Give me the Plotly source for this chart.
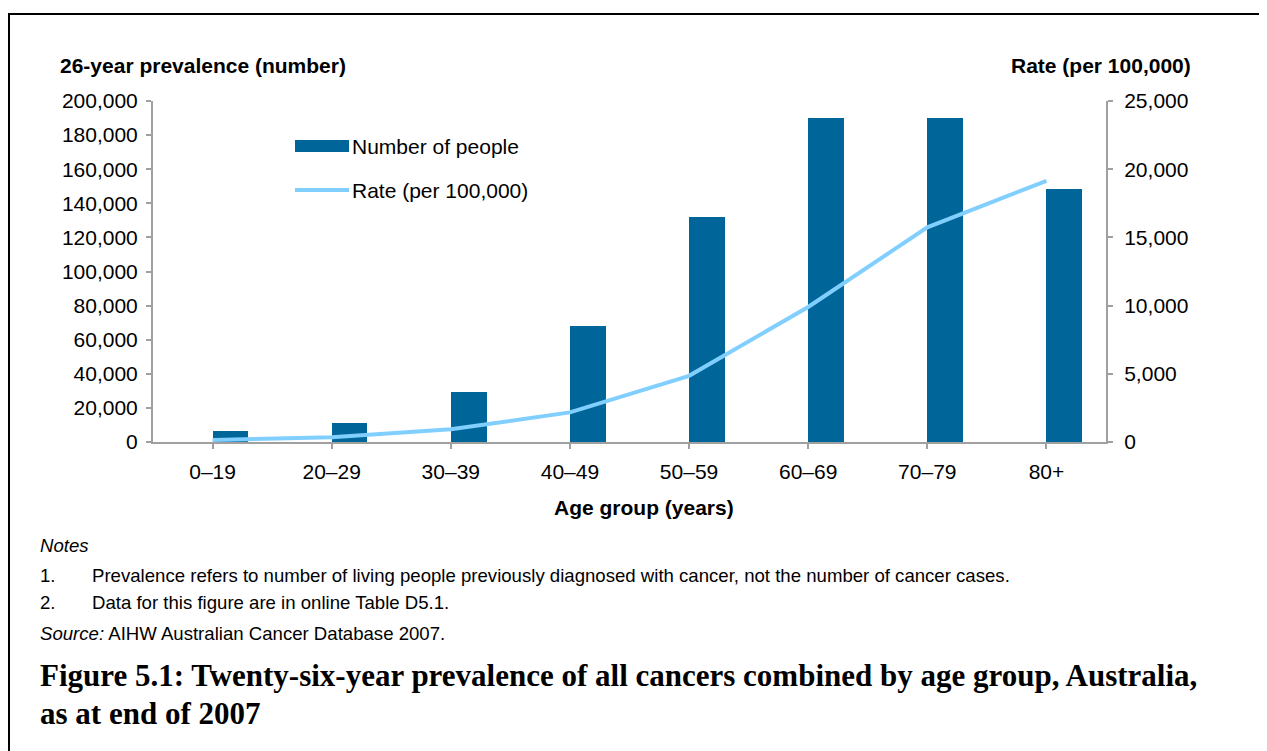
import plotly.graph_objects as go

age_groups = ["0–19", "20–29", "30–39", "40–49", "50–59", "60–69", "70–79", "80+"]
number_of_people = [6600, 11100, 29400, 68000, 131800, 190000, 190000, 148100]
rate_per_100k = [150, 340, 930, 2170, 4850, 9900, 15740, 19150]

left_ticks = list(range(0, 200001, 20000))
right_ticks = list(range(0, 25001, 5000))

OFF = 8  # page body margin
W, H = 1267 - OFF, 751 - OFF
# plot area in page pixels
PL, PR, PT, PB = 153, 1106, 101, 442


def X(px):
    return (px - PL) / (PR - PL)


def Y(py):
    return (PB - py) / (PB - PT)


BAR_COLOR = "#006699"
LINE_COLOR = "#80CFFF"
AXIS_COLOR = "#a0a0a0"
SANS = "Liberation Sans, Arial, sans-serif"
SERIF = "Liberation Serif, Times New Roman, serif"

fig = go.Figure()
fig.add_trace(go.Bar(
    x=age_groups, y=number_of_people, name="Number of people",
    marker=dict(color=BAR_COLOR, line=dict(width=0)),
    width=0.3, offset=0, showlegend=False,
))
fig.add_trace(go.Scatter(
    x=age_groups, y=rate_per_100k, name="Rate (per 100,000)", yaxis="y2",
    mode="lines", line=dict(color=LINE_COLOR, width=4), showlegend=False,
))

axis_common = dict(showline=True, linecolor=AXIS_COLOR, linewidth=2, ticks="outside",
                   ticklen=5, tickcolor=AXIS_COLOR, tickwidth=2, showgrid=False,
                   zeroline=False, tickfont=dict(family=SANS, size=21, color="#000"))

fig.update_layout(
    width=W, height=H,
    margin=dict(l=PL - OFF, r=W - (PR - OFF), t=PT - OFF, b=H - (PB - OFF), pad=0),
    paper_bgcolor="white", plot_bgcolor="white",
    bargap=0,
    xaxis=dict(range=[-0.5, 7.5], ticklabelstandoff=5, **axis_common),
    yaxis=dict(range=[0, 200000], tickvals=left_ticks, tickformat=",",
               ticklabelstandoff=4, **axis_common),
    yaxis2=dict(range=[0, 25000], tickvals=right_ticks, tickformat=",",
                overlaying="y", side="right", ticklabelstandoff=7, **axis_common),
    showlegend=False,
)

annotations = []


def txt(text, px, py, xanchor="left", size=21, family=SANS):
    annotations.append(dict(text=text, x=X(px), y=Y(py), xref="paper", yref="paper",
                            xanchor=xanchor, yanchor="middle", showarrow=False,
                            font=dict(family=family, size=size, color="#000")))


NOTE = 18.6
txt("<b>26-year prevalence (number)</b>", 58, 65)
txt("<b>Rate (per 100,000)</b>", 1193, 65, xanchor="right")
txt("<b>Age group (years)</b>", 644, 507, xanchor="center")
txt("Number of people", 350, 146)
txt("Rate (per 100,000)", 350, 190)
txt("<i>Notes</i>", 38, 545, size=NOTE)
txt("1.", 38, 575, size=NOTE)
txt("Prevalence refers to number of living people previously diagnosed with cancer, not the number of cancer cases.", 90, 575, size=NOTE)
txt("2.", 38, 602, size=NOTE)
txt("Data for this figure are in online Table D5.1.", 90, 602, size=NOTE)
txt("<i>Source:</i> AIHW Australian Cancer Database 2007.", 38, 633, size=NOTE)
txt("<b>Figure 5.1: Twenty-six-year prevalence of all cancers combined by age group, Australia,</b>", 38, 675, size=31, family=SERIF)
txt("<b>as at end of 2007</b>", 38, 713, size=31, family=SERIF)

shapes = [
    dict(type="rect", xref="paper", yref="paper", x0=X(9), x1=X(1300), y0=Y(14), y1=Y(800),
         line=dict(color="black", width=2), fillcolor="rgba(0,0,0,0)", layer="below"),
    dict(type="rect", xref="paper", yref="paper", x0=X(295), x1=X(349), y0=Y(152), y1=Y(140),
         line=dict(width=0), fillcolor=BAR_COLOR),
    dict(type="line", xref="paper", yref="paper", x0=X(295), x1=X(349), y0=Y(190), y1=Y(190),
         line=dict(color=LINE_COLOR, width=4)),
]

fig.update_layout(annotations=annotations, shapes=shapes)
fig.write_html("out.html")
